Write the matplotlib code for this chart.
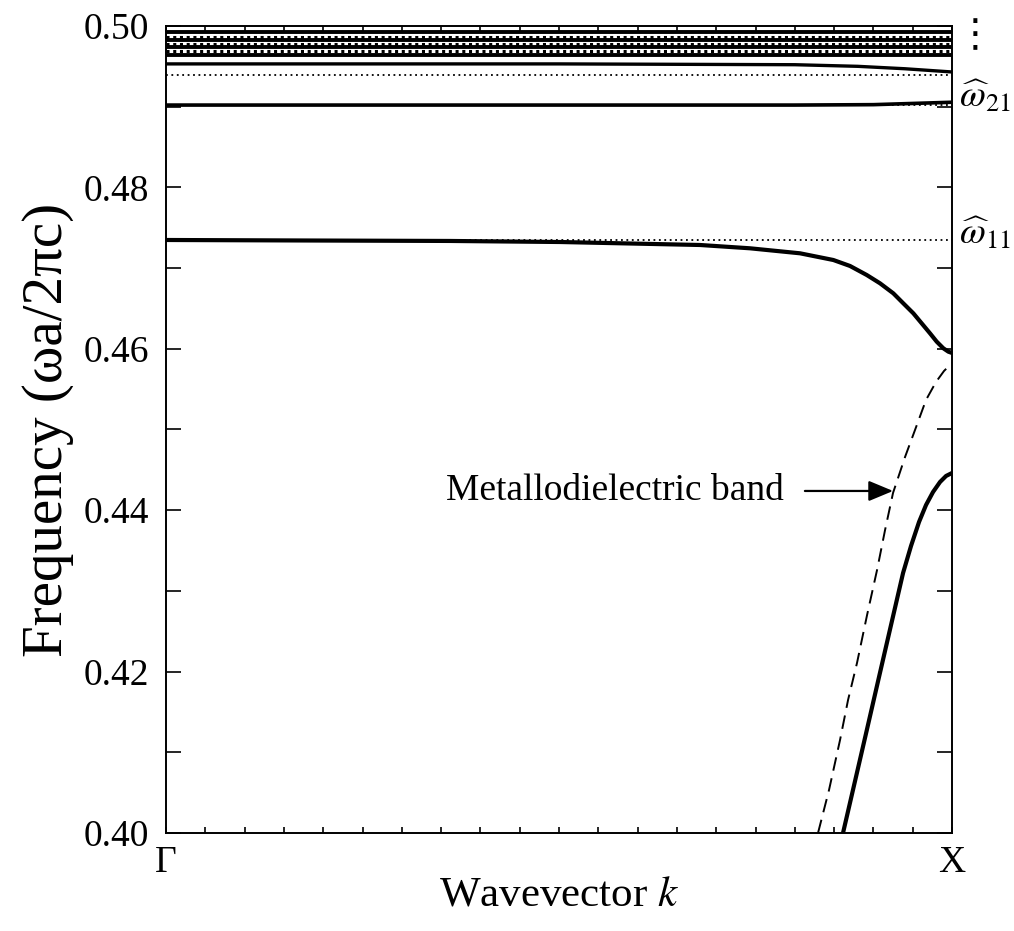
import numpy as np
import matplotlib
matplotlib.use("Agg")
import matplotlib.pyplot as plt
from matplotlib.ticker import MultipleLocator

plt.rcParams['font.family'] = ['Liberation Serif', 'DejaVu Serif']
plt.rcParams['mathtext.fontset'] = 'stix'

# lowest band (solid), folded light line (dashed), defect band from w11 (solid)
k_band0 = [0.8613, 0.8766, 0.8919, 0.9071, 0.9224, 0.9377, 0.9478, 0.9580, 0.9669, 0.9758, 0.9847, 0.9924, 1.0]
f_band0 = [0.4000, 0.40644, 0.41289, 0.41933, 0.42578, 0.43222, 0.43556, 0.43854, 0.44064, 0.44225, 0.44349, 0.44424, 0.44461]

k_metal = [0.8295, 0.8435, 0.8575, 0.8677, 0.8791, 0.8919, 0.9046, 0.9148, 0.9249, 0.9402, 0.9529, 0.9669, 0.9796, 0.9898, 1.0]
f_metal = [0.4000, 0.40533, 0.41152, 0.41648, 0.42107, 0.42701, 0.43259, 0.43755, 0.44213, 0.44659, 0.44994, 0.45366, 0.45589, 0.45725, 0.45824]

k_band1 = [0.0, 0.1705, 0.3613, 0.5013, 0.6794, 0.7430, 0.8066, 0.8490, 0.8702, 0.8915, 0.9084, 0.9253,
           0.9380, 0.9508, 0.9614, 0.9720, 0.9805, 0.9889, 0.9953, 1.0]
f_band1 = [0.47348, 0.47342, 0.47336, 0.47323, 0.47286, 0.47245, 0.47183, 0.47100, 0.47026, 0.46914, 0.46811, 0.46687,
           0.46563, 0.46439, 0.46315, 0.46191, 0.46088, 0.46006, 0.45964, 0.45948]

k_band2 = [0.0, 0.8, 0.9, 0.95, 1.0]
f_band2 = [0.4902, 0.4902, 0.49025, 0.4904, 0.49055]

k_band3 = [0.0, 0.5, 0.80, 0.88, 0.94, 1.0]
f_band3 = [0.4953, 0.4953, 0.4952, 0.4950, 0.4947, 0.4943]

# flat bands packed near 0.5
flat_solid = [0.49926, 0.49827, 0.49740, 0.49640]
# reference frequencies (dotted)
w_hat = [0.47348, 0.4902, 0.49393]
w_hat_top = [0.49690, 0.49777, 0.49864]

fig = plt.figure(figsize=(10.14, 9.31), dpi=100)
ax = fig.add_axes([0.1637, 0.1053, 0.7752, 0.8668])

for w in w_hat:
    ax.axhline(w, color='black', lw=1.3, ls=(0, (1, 2)))
for f in flat_solid:
    ax.axhline(f, color='black', lw=2.8)
for w in w_hat_top:
    ax.axhline(w, color='black', lw=2.2, ls=(0, (1, 1.2)))

ax.plot(k_band0, f_band0, color='black', lw=3.0)
ax.plot(k_metal, f_metal, color='black', lw=1.4, ls=(0, (7, 4)))
ax.plot(k_band1, f_band1, color='black', lw=3.0)
ax.plot(k_band2, f_band2, color='black', lw=2.6)
ax.plot(k_band3, f_band3, color='black', lw=2.4)

ax.set_xlim(0, 1)
ax.set_ylim(0.40, 0.50)

ax.set_xticks([0, 1])
ax.set_xticklabels(['Γ', 'X'])
ax.xaxis.set_minor_locator(MultipleLocator(0.05))
ax.yaxis.set_major_locator(MultipleLocator(0.02))
ax.yaxis.set_minor_locator(MultipleLocator(0.01))
ax.yaxis.set_major_formatter(matplotlib.ticker.FormatStrFormatter('%.2f'))
ax.tick_params(axis='y', which='both', direction='in', length=11, width=1.2,
               right=True, labelsize=27, pad=12)
ax.tick_params(axis='x', which='both', direction='in', length=4, width=1.2,
               top=True, labelsize=27, pad=9)
for s in ax.spines.values():
    s.set_linewidth(1.4)

ax.set_xlabel('Wavevector $k$', fontsize=31, labelpad=-3)
ax.set_ylabel('Frequency (ωa/2πc)', fontsize=41, labelpad=7)

ax.annotate('Metallodielectric band', xy=(0.925, 0.44238), xytext=(0.7863, 0.44238),
            ha='right', va='center', fontsize=27,
            arrowprops=dict(arrowstyle='-|>,head_length=0.6,head_width=0.25', color='black', lw=1.6,
                            shrinkA=13, shrinkB=0, mutation_scale=25))

ax.text(1.009, 0.4912, r'$\widehat{\omega}_{21}$', fontsize=27, ha='left', va='center', clip_on=False)
ax.text(1.009, 0.4742, r'$\widehat{\omega}_{11}$', fontsize=27, ha='left', va='center', clip_on=False)
ax.text(1.029, 0.4989, '⋮', fontsize=28, ha='center', va='center', family='DejaVu Sans', clip_on=False)

fig.savefig('out.png', dpi=100)
